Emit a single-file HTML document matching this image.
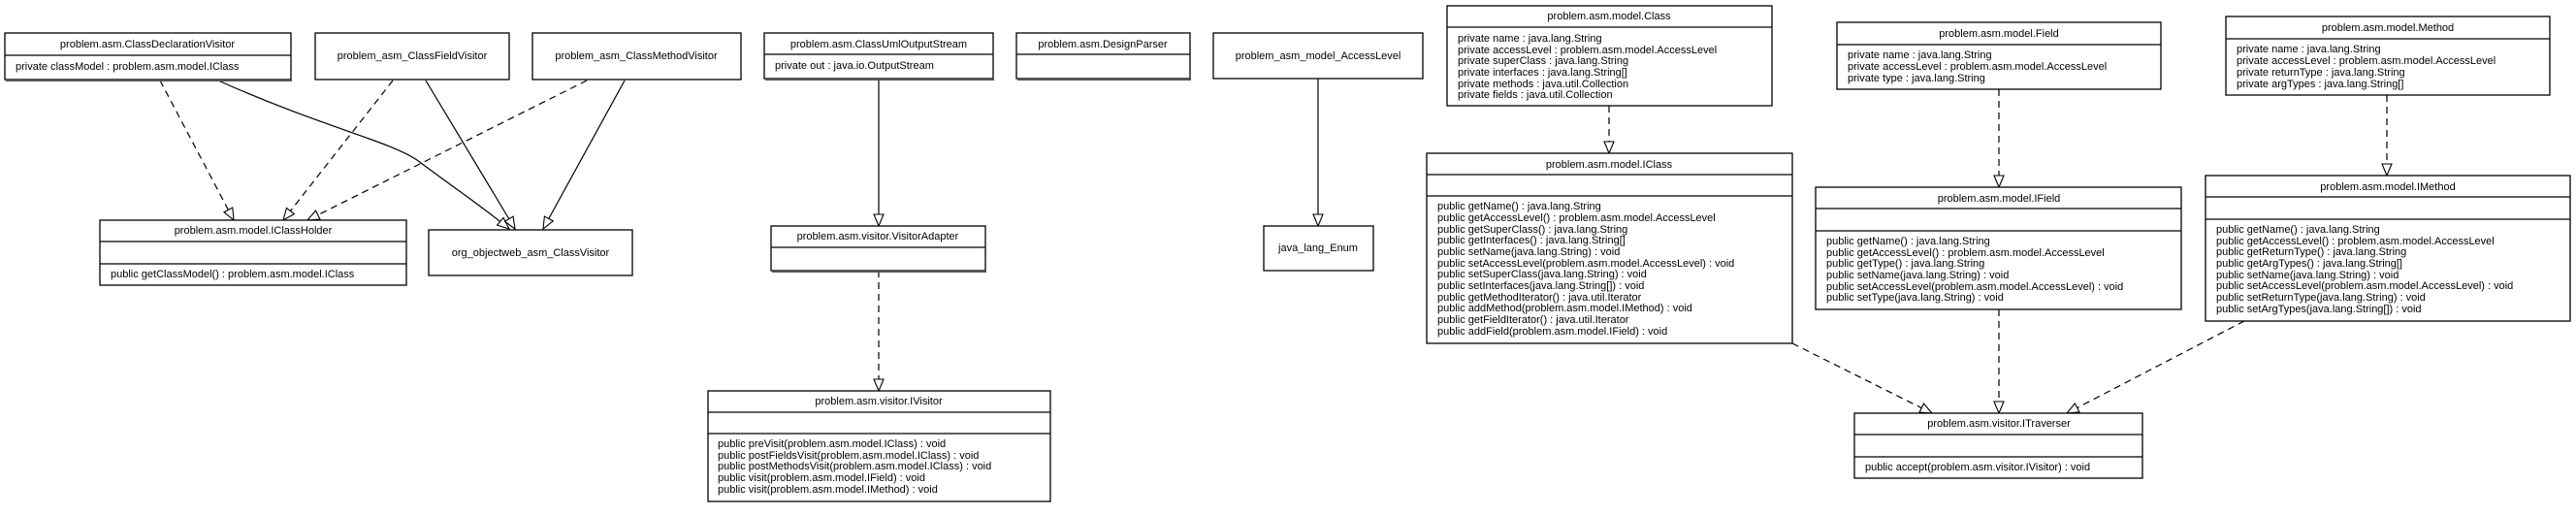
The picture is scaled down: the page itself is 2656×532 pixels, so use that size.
<!DOCTYPE html>
<html><head><meta charset="utf-8"><style>
html,body{margin:0;padding:0;background:#fff;}
svg{display:block;}
text{font-family:"Liberation Sans",sans-serif;font-size:11px;fill:#000;}
.b{fill:#fff;stroke:#000;stroke-width:1.3;}
.sh{fill:none;stroke:#555;stroke-width:2;}
.l{stroke:#000;stroke-width:1.2;fill:none;}
.s{stroke:#000;stroke-width:1.2;fill:none;}
.d{stroke:#000;stroke-width:1.2;fill:none;stroke-dasharray:7,5;}
</style></head><body>
<svg width="2656" height="532" viewBox="0 0 2656 532" xmlns="http://www.w3.org/2000/svg">
<defs>
<marker id="t" viewBox="0 0 14 12" refX="13" refY="6" markerWidth="14" markerHeight="12" markerUnits="userSpaceOnUse" orient="auto">
<path d="M1,1 L13,6 L1,11 Z" fill="#fff" stroke="#000" stroke-width="1.1"/>
</marker>
</defs>

<!-- connectors -->
<path class="d" d="M165,83 L241,227" marker-end="url(#t)"/>
<path class="s" d="M225,83 C330,130 400,145 430,165 C470,195 500,215 525,236" marker-end="url(#t)"/>
<path class="d" d="M405,83 L292,227" marker-end="url(#t)"/>
<path class="s" d="M439,83 L531,236" marker-end="url(#t)"/>
<path class="d" d="M605,83 L317,227" marker-end="url(#t)"/>
<path class="s" d="M644,83 L560,236" marker-end="url(#t)"/>
<path class="s" d="M906,81 L906,233" marker-end="url(#t)"/>
<path class="d" d="M906,279 L906,403" marker-end="url(#t)"/>
<path class="s" d="M1359,81 L1359,233" marker-end="url(#t)"/>
<path class="d" d="M1659,109 L1659,158" marker-end="url(#t)"/>
<path class="d" d="M2061,92 L2061,193" marker-end="url(#t)"/>
<path class="d" d="M2461,98 L2461,181" marker-end="url(#t)"/>
<path class="d" d="M1848,354 L1992,426" marker-end="url(#t)"/>
<path class="d" d="M2061,319 L2061,426" marker-end="url(#t)"/>
<path class="d" d="M2314,331 L2131,426" marker-end="url(#t)"/>

<!-- ClassDeclarationVisitor -->
<rect class="b" x="5" y="34" width="295" height="48"/><path class="sh" d="M6,83 L301,83"/>
<line class="l" x1="5" y1="57" x2="300" y2="57"/>
<text x="152" y="49" text-anchor="middle">problem.asm.ClassDeclarationVisitor</text>
<text x="16" y="72">private classModel : problem.asm.model.IClass</text>

<rect class="b" x="325" y="34" width="200" height="48"/>
<text x="425" y="61" text-anchor="middle">problem_asm_ClassFieldVisitor</text>
<rect class="b" x="549" y="34" width="215" height="48"/>
<text x="656" y="61" text-anchor="middle">problem_asm_ClassMethodVisitor</text>

<rect class="b" x="103" y="227" width="316" height="67"/>
<line class="l" x1="103" y1="249" x2="419" y2="249"/><line class="l" x1="103" y1="272" x2="419" y2="272"/>
<text x="261" y="241" text-anchor="middle">problem.asm.model.IClassHolder</text>
<text x="114" y="286">public getClassModel() : problem.asm.model.IClass</text>

<rect class="b" x="442" y="237" width="210" height="47"/>
<text x="547" y="264" text-anchor="middle">org_objectweb_asm_ClassVisitor</text>

<!-- ClassUmlOutputStream -->
<rect class="b" x="788" y="34" width="236" height="47"/><path class="sh" d="M789,82 L1025,82"/>
<line class="l" x1="788" y1="56" x2="1024" y2="56"/>
<text x="906" y="49" text-anchor="middle">problem.asm.ClassUmlOutputStream</text>
<text x="799" y="71">private out : java.io.OutputStream</text>

<rect class="b" x="1048" y="34" width="179" height="47"/><path class="sh" d="M1049,82 L1228,82"/>
<line class="l" x1="1048" y1="56" x2="1227" y2="56"/>
<text x="1137" y="49" text-anchor="middle">problem.asm.DesignParser</text>

<rect class="b" x="1251" y="34" width="216" height="47"/>
<text x="1359" y="61" text-anchor="middle">problem_asm_model_AccessLevel</text>

<rect class="b" x="795" y="233" width="221" height="46"/><path class="sh" d="M796,280 L1017,280"/>
<line class="l" x1="795" y1="255" x2="1016" y2="255"/>
<text x="905" y="247" text-anchor="middle">problem.asm.visitor.VisitorAdapter</text>

<rect class="b" x="1303" y="233" width="113" height="46"/>
<text x="1359" y="259" text-anchor="middle">java_lang_Enum</text>

<!-- IVisitor -->
<rect class="b" x="730" y="403" width="353" height="114"/>
<line class="l" x1="730" y1="425" x2="1083" y2="425"/><line class="l" x1="730" y1="447" x2="1083" y2="447"/>
<text x="906" y="417" text-anchor="middle">problem.asm.visitor.IVisitor</text>
<text x="740" y="461">public preVisit(problem.asm.model.IClass) : void</text>
<text x="740" y="473">public postFieldsVisit(problem.asm.model.IClass) : void</text>
<text x="740" y="484">public postMethodsVisit(problem.asm.model.IClass) : void</text>
<text x="740" y="496">public visit(problem.asm.model.IField) : void</text>
<text x="740" y="508">public visit(problem.asm.model.IMethod) : void</text>

<!-- Class -->
<rect class="b" x="1492" y="6" width="335" height="103"/>
<line class="l" x1="1492" y1="28" x2="1827" y2="28"/>
<text x="1659" y="20" text-anchor="middle">problem.asm.model.Class</text>
<text x="1503" y="43">private name : java.lang.String</text>
<text x="1503" y="55">private accessLevel : problem.asm.model.AccessLevel</text>
<text x="1503" y="66">private superClass : java.lang.String</text>
<text x="1503" y="78">private interfaces : java.lang.String[]</text>
<text x="1503" y="90">private methods : java.util.Collection</text>
<text x="1503" y="101">private fields : java.util.Collection</text>

<!-- Field -->
<rect class="b" x="1894" y="23" width="334" height="69"/>
<line class="l" x1="1894" y1="46" x2="2228" y2="46"/>
<text x="2061" y="38" text-anchor="middle">problem.asm.model.Field</text>
<text x="1905" y="60">private name : java.lang.String</text>
<text x="1905" y="72">private accessLevel : problem.asm.model.AccessLevel</text>
<text x="1905" y="84">private type : java.lang.String</text>

<!-- Method -->
<rect class="b" x="2295" y="17" width="334" height="81"/>
<line class="l" x1="2295" y1="40" x2="2629" y2="40"/>
<text x="2462" y="32" text-anchor="middle">problem.asm.model.Method</text>
<text x="2306" y="54">private name : java.lang.String</text>
<text x="2306" y="66">private accessLevel : problem.asm.model.AccessLevel</text>
<text x="2306" y="78">private returnType : java.lang.String</text>
<text x="2306" y="90">private argTypes : java.lang.String[]</text>

<!-- IClass -->
<rect class="b" x="1471" y="158" width="377" height="196"/>
<line class="l" x1="1471" y1="180" x2="1848" y2="180"/><line class="l" x1="1471" y1="202" x2="1848" y2="202"/>
<text x="1659" y="173" text-anchor="middle">problem.asm.model.IClass</text>
<text x="1482" y="216">public getName() : java.lang.String</text>
<text x="1482" y="228">public getAccessLevel() : problem.asm.model.AccessLevel</text>
<text x="1482" y="240">public getSuperClass() : java.lang.String</text>
<text x="1482" y="251">public getInterfaces() : java.lang.String[]</text>
<text x="1482" y="263">public setName(java.lang.String) : void</text>
<text x="1482" y="275">public setAccessLevel(problem.asm.model.AccessLevel) : void</text>
<text x="1482" y="286">public setSuperClass(java.lang.String) : void</text>
<text x="1482" y="298">public setInterfaces(java.lang.String[]) : void</text>
<text x="1482" y="310">public getMethodIterator() : java.util.Iterator</text>
<text x="1482" y="321">public addMethod(problem.asm.model.IMethod) : void</text>
<text x="1482" y="333">public getFieldIterator() : java.util.Iterator</text>
<text x="1482" y="345">public addField(problem.asm.model.IField) : void</text>

<!-- IField -->
<rect class="b" x="1872" y="193" width="377" height="126"/>
<line class="l" x1="1872" y1="215" x2="2249" y2="215"/><line class="l" x1="1872" y1="238" x2="2249" y2="238"/>
<text x="2061" y="208" text-anchor="middle">problem.asm.model.IField</text>
<text x="1883" y="252">public getName() : java.lang.String</text>
<text x="1883" y="264">public getAccessLevel() : problem.asm.model.AccessLevel</text>
<text x="1883" y="275">public getType() : java.lang.String</text>
<text x="1883" y="287">public setName(java.lang.String) : void</text>
<text x="1883" y="299">public setAccessLevel(problem.asm.model.AccessLevel) : void</text>
<text x="1883" y="310">public setType(java.lang.String) : void</text>

<!-- IMethod -->
<rect class="b" x="2274" y="181" width="376" height="150"/>
<line class="l" x1="2274" y1="203" x2="2650" y2="203"/><line class="l" x1="2274" y1="226" x2="2650" y2="226"/>
<text x="2462" y="196" text-anchor="middle">problem.asm.model.IMethod</text>
<text x="2285" y="240">public getName() : java.lang.String</text>
<text x="2285" y="252">public getAccessLevel() : problem.asm.model.AccessLevel</text>
<text x="2285" y="263">public getReturnType() : java.lang.String</text>
<text x="2285" y="275">public getArgTypes() : java.lang.String[]</text>
<text x="2285" y="287">public setName(java.lang.String) : void</text>
<text x="2285" y="298">public setAccessLevel(problem.asm.model.AccessLevel) : void</text>
<text x="2285" y="310">public setReturnType(java.lang.String) : void</text>
<text x="2285" y="322">public setArgTypes(java.lang.String[]) : void</text>

<!-- ITraverser -->
<rect class="b" x="1912" y="426" width="297" height="67"/>
<line class="l" x1="1912" y1="448" x2="2209" y2="448"/><line class="l" x1="1912" y1="471" x2="2209" y2="471"/>
<text x="2061" y="440" text-anchor="middle">problem.asm.visitor.ITraverser</text>
<text x="1923" y="485">public accept(problem.asm.visitor.IVisitor) : void</text>
</svg>
</body></html>
